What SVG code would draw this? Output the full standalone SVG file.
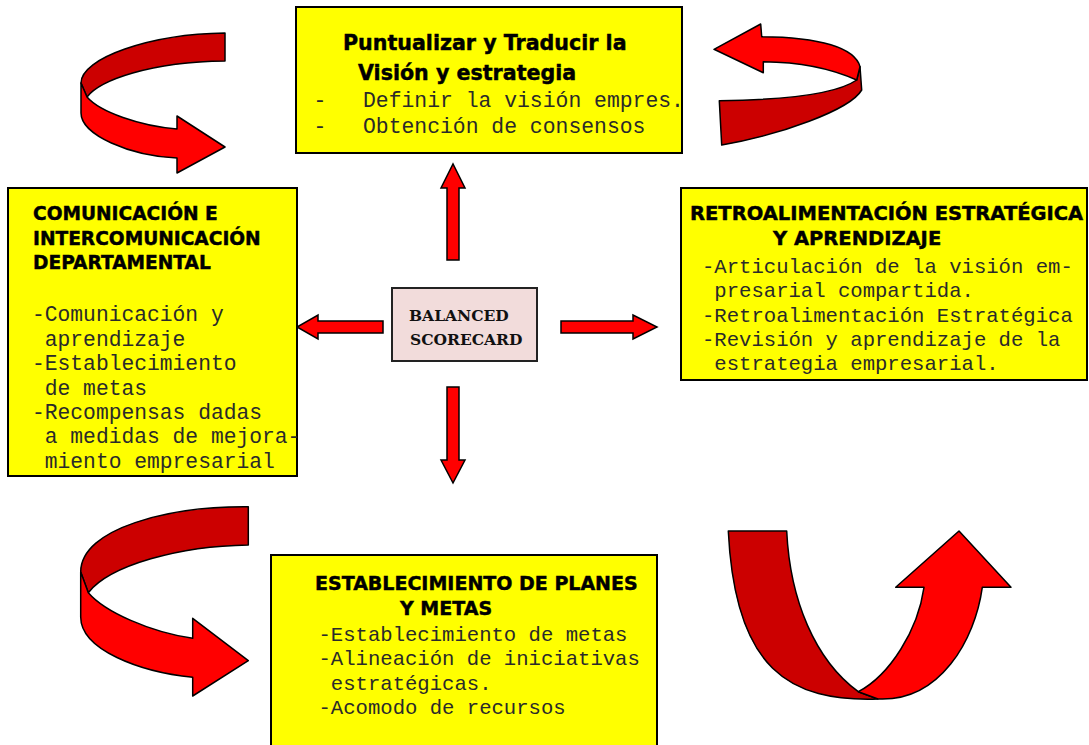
<svg xmlns="http://www.w3.org/2000/svg" width="1089" height="745" viewBox="0 0 1089 745">
<style>
.box{fill:#FFFF00;stroke:#000;stroke-width:2}
.center{fill:#F2DCDB;stroke:#222;stroke-width:2}
.t{font-family:"DejaVu Sans","Liberation Sans",Arial,sans-serif;font-weight:bold;fill:#000;stroke:#000;stroke-width:0.45}
.b{font-family:"Liberation Mono","Courier New",monospace;fill:#2a2a2a}
.c{font-family:"DejaVu Serif","Liberation Serif",serif;font-weight:bold;fill:#111;font-size:15.5px}
.ar{fill:#FF0000;stroke:#000;stroke-width:1.5;stroke-linejoin:miter}
.dk{fill:#CC0000;stroke:#000;stroke-width:1.5;stroke-linejoin:round}
.br{fill:#FF0000;stroke:#000;stroke-width:1.5;stroke-linejoin:round}
</style>
<rect width="1089" height="745" fill="#fff"/>

<g id="cycle-arrows">
  <g id="curve-top-left">
    <path class="dk" d="M225,33 L225,61 C150,62 100,80 87,97 L81,83 C81,58 150,34 225,33 Z"/>
    <path class="br" d="M81,83 L87,97 C100,112 140,126 177,129 L177,116 L225,147 L177,173 L177,158 C130,156 81,135 81,113 Z"/>
  </g>
  <g id="curve-top-right">
    <path class="dk" d="M860,66.7 L861.7,90 C850,110 780,135 721.7,145 L719.3,100.7 C780,100 835,95 856.7,80 Z"/>
    <path class="br" d="M856.7,80 C830,68 800,62 763.3,61.7 L763.3,72.7 L714,49.3 L760.7,24 L761.7,36.7 C820,37 855,48 860,66.7 Z"/>
  </g>
  <g id="curve-bottom-left">
    <path class="dk" d="M248.3,506.7 L248.3,545 C180,546 110,565 88.3,592.7 L80.7,572 C80.7,528 170,506 248.3,506.7 Z"/>
    <path class="br" d="M80.7,572 L88.3,592.7 C105,612 150,632 192.7,638.3 L192.7,618.3 L248.3,660.7 L192.7,696 L192.7,677.3 C140,672 80.7,650 80.7,617 Z"/>
  </g>
  <g id="curve-bottom-right">
    <path class="dk" d="M728.3,531 L786.7,531 C790,600 815,660 858.3,691.7 L878,699 C790,702 735,670 728.3,531 Z"/>
    <path class="br" d="M924,587.3 C918,630 890,675 858.3,691.7 L878,699 C940,702 975,640 982.3,587.3 L1011,587.3 L959,531 L895.7,587.3 Z"/>
  </g>
</g>

<g id="connectors">
  <polygon class="ar" points="447,260 447,188 441,188 453,164 465,188 459,188 459,260"/>
  <polygon class="ar" points="447,387 459,387 459,460 465,460 453,483 441,460 447,460"/>
  <polygon class="ar" points="383,321 318,321 318,315 297,327 318,339 318,333 383,333"/>
  <polygon class="ar" points="561,321 633,321 633,315 657,327 633,339 633,333 561,333"/>
</g>

<g id="node-top">
  <rect class="box" x="296" y="7" width="386" height="146"/>
  <text class="t" font-size="20.6" x="343" y="50">Puntualizar y Traducir la</text>
  <text class="t" font-size="20.6" x="358" y="80">Visión y estrategia</text>
  <text class="b" font-size="21.4" x="313.5" y="107">-</text>
  <text class="b" font-size="21.4" x="363" y="107">Definir la visión empres.</text>
  <text class="b" font-size="21.4" x="313.5" y="133">-</text>
  <text class="b" font-size="21.4" x="363" y="133">Obtención de consensos</text>
</g>

<g id="node-left">
  <rect class="box" x="8" y="188" width="289" height="288"/>
  <text class="t" font-size="18.6" x="33" y="220">COMUNICACIÓN E</text>
  <text class="t" font-size="18.6" x="33" y="245">INTERCOMUNICACIÓN</text>
  <text class="t" font-size="18.6" x="33" y="269">DEPARTAMENTAL</text>
  <g class="b" font-size="21.3">
    <text x="32" y="321">-Comunicación y</text>
    <text x="32" y="345.5" xml:space="preserve"> aprendizaje</text>
    <text x="32" y="370">-Establecimiento</text>
    <text x="32" y="394.5" xml:space="preserve"> de metas</text>
    <text x="32" y="419">-Recompensas dadas</text>
    <text x="32" y="443" xml:space="preserve"> a medidas de mejora-</text>
    <text x="32" y="467.5" xml:space="preserve"> miento empresarial</text>
  </g>
</g>

<g id="node-right">
  <rect class="box" x="681" y="188" width="406" height="192"/>
  <text class="t" font-size="19.5" x="690" y="220">RETROALIMENTACIÓN ESTRATÉGICA</text>
  <text class="t" font-size="19.5" x="773" y="245">Y APRENDIZAJE</text>
  <g class="b" font-size="20.6">
    <text x="702" y="272.5">-Articulación de la visión em-</text>
    <text x="702" y="297" xml:space="preserve"> presarial compartida.</text>
    <text x="702" y="321.5">-Retroalimentación Estratégica</text>
    <text x="702" y="346">-Revisión y aprendizaje de la</text>
    <text x="702" y="370" xml:space="preserve"> estrategia empresarial.</text>
  </g>
</g>

<g id="node-bottom">
  <rect class="box" x="271" y="555" width="386" height="200"/>
  <text class="t" font-size="19" x="315" y="590">ESTABLECIMIENTO DE PLANES</text>
  <text class="t" font-size="19" x="400" y="615">Y METAS</text>
  <g class="b" font-size="20.6">
    <text x="318.5" y="641">-Establecimiento de metas</text>
    <text x="318.5" y="665">-Alineación de iniciativas</text>
    <text x="318.5" y="689.5" xml:space="preserve"> estratégicas.</text>
    <text x="318.5" y="713.5">-Acomodo de recursos</text>
  </g>
</g>

<g id="node-center">
  <rect class="center" x="392" y="288" width="145" height="73"/>
  <text class="c" x="409" y="321">BALANCED</text>
  <text class="c" x="410" y="345">SCORECARD</text>
</g>
</svg>
